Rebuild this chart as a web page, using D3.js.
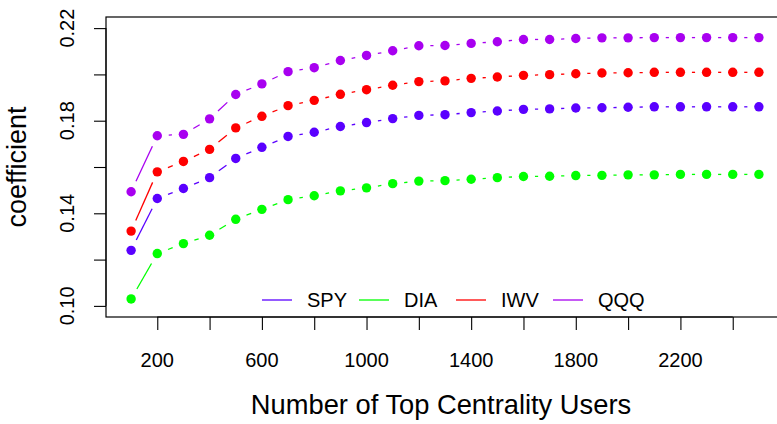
<!DOCTYPE html>
<html>
<head>
<meta charset="utf-8">
<script src="https://cdn.jsdelivr.net/npm/d3@7"></script>
<style>
  body { margin: 0; background: #fff; }
  svg { display: block; font-family: "Liberation Sans", Arial, sans-serif; }
</style>
</head>
<body>
<div id="chart"></div>
<script>
// values
const users = [100, 200, 300, 400, 500, 600, 700, 800, 900, 1000, 1100, 1200, 1300,
               1400, 1500, 1600, 1700, 1800, 1900, 2000, 2100, 2200, 2300, 2400, 2500];
const spy = [0.1240, 0.1464, 0.1507, 0.1554, 0.1637, 0.1685, 0.1732, 0.1750, 0.1775, 0.1792, 0.1809, 0.1823, 0.1826,
             0.1835, 0.1842, 0.1849, 0.1851, 0.1855, 0.1856, 0.1858, 0.1860, 0.1860, 0.1860, 0.1860, 0.1860];
const dia = [0.1030, 0.1226, 0.1269, 0.1305, 0.1374, 0.1417, 0.1459, 0.1476, 0.1497, 0.1510, 0.1528, 0.1539, 0.1541,
             0.1547, 0.1554, 0.1559, 0.1560, 0.1563, 0.1564, 0.1566, 0.1566, 0.1568, 0.1568, 0.1568, 0.1568];
const iwv = [0.1323, 0.1579, 0.1624, 0.1676, 0.1769, 0.1819, 0.1865, 0.1888, 0.1914, 0.1934, 0.1953, 0.1969, 0.1972,
             0.1983, 0.1989, 0.1996, 0.1999, 0.2003, 0.2006, 0.2007, 0.2009, 0.2009, 0.2009, 0.2009, 0.2009];
const qqq = [0.1493, 0.1735, 0.1741, 0.1808, 0.1913, 0.1959, 0.2012, 0.2029, 0.2060, 0.2082, 0.2102, 0.2124, 0.2125,
             0.2134, 0.2141, 0.2151, 0.2151, 0.2155, 0.2158, 0.2158, 0.2159, 0.2159, 0.2159, 0.2159, 0.2159];
const seriesNames = ["SPY", "DIA", "IWV", "QQQ"];
const xTicks = [200, 400, 600, 800, 1000, 1200, 1400, 1600, 1800, 2000, 2200, 2400];
const xLabels = [200, 600, 1000, 1400, 1800, 2200];
const yTicks = [0.10, 0.12, 0.14, 0.16, 0.18, 0.20, 0.22];
const yLabels = [0.10, 0.14, 0.18, 0.22];

const width = 777, height = 424;
const box = { left: 106, right: 784, top: 17, bottom: 317 };
const col = { SPY: "#5a00ff", DIA: "#00ff00", IWV: "#ff0000", QQQ: "#a800f0" };
const gap = 11.5;   // type="b" leaves a gap around each point
const r = 4.7;

const series = [spy, dia, iwv, qqq].map((vals, i) => ({
    name: seriesNames[i],
    values: vals.map((v, j) => ({ x: users[j], y: v }))
}));

const svg = d3.select("#chart")
    .append("svg")
    .attr("width", width)
    .attr("height", height);

// R pads the range by 4% on each side
const xScale = d3.scaleLinear()
    .domain([4, 2596])
    .range([box.left, box.right]);

const yScale = d3.scaleLinear()
    .domain([0.0952, 0.2248])
    .range([box.bottom, box.top]);

// plot box
svg.append("rect")
    .attr("x", box.left)
    .attr("y", box.top)
    .attr("width", box.right - box.left)
    .attr("height", box.bottom - box.top)
    .attr("fill", "none")
    .attr("stroke", "#000")
    .attr("stroke-width", 1.2);

// x axis
const xAxis = svg.append("g")
    .attr("transform", `translate(0, ${box.bottom})`)
    .call(d3.axisBottom(xScale).tickValues(xTicks).tickSize(13).tickSizeOuter(0).tickFormat(""));
xAxis.select(".domain")
    .attr("d", `M${xScale(xTicks[0])},0H${xScale(xTicks[xTicks.length - 1])}`);
xAxis.selectAll("line").attr("stroke-width", 1.1);

svg.append("g").selectAll("text")
    .data(xLabels)
    .enter()
    .append("text")
    .attr("x", d => xScale(d))
    .attr("y", 367)
    .attr("text-anchor", "middle")
    .style("font-size", "20px")
    .text(d => d);

// y axis
const yAxis = svg.append("g")
    .attr("transform", `translate(${box.left}, 0)`)
    .call(d3.axisLeft(yScale).tickValues(yTicks).tickSize(12).tickSizeOuter(0).tickFormat(""));
yAxis.select(".domain")
    .attr("d", `M0,${yScale(yTicks[0])}V${yScale(yTicks[yTicks.length - 1])}`);
yAxis.selectAll("line").attr("stroke-width", 1.1);

svg.append("g").selectAll("text")
    .data(yLabels)
    .enter()
    .append("text")
    .attr("transform", d => `translate(74, ${yScale(d)}) rotate(-90)`)
    .attr("text-anchor", "middle")
    .style("font-size", "20px")
    .text(d => d3.format(".2f")(d));

// axis titles
svg.append("text")
    .attr("x", 441)
    .attr("y", 414)
    .attr("text-anchor", "middle")
    .style("font-size", "27.3px")
    .text("Number of Top Centrality Users");

svg.append("text")
    .attr("transform", `translate(26, ${(box.top + box.bottom) / 2}) rotate(-90)`)
    .attr("text-anchor", "middle")
    .style("font-size", "27px")
    .text("coefficient");

// lines with gaps around points
const plot = svg.append("g");

series.forEach(s => {
    const segs = d3.pairs(s.values).map(([a, b]) => {
        const x1 = xScale(a.x), y1 = yScale(a.y);
        const x2 = xScale(b.x), y2 = yScale(b.y);
        const len = Math.hypot(x2 - x1, y2 - y1);
        const ux = (x2 - x1) / len, uy = (y2 - y1) / len;
        return { len, x1: x1 + ux * gap, y1: y1 + uy * gap, x2: x2 - ux * gap, y2: y2 - uy * gap };
    }).filter(d => d.len > 2 * gap);

    plot.append("g").selectAll("line")
        .data(segs)
        .enter()
        .append("line")
        .attr("x1", d => d.x1)
        .attr("y1", d => d.y1)
        .attr("x2", d => d.x2)
        .attr("y2", d => d.y2)
        .attr("stroke", col[s.name])
        .attr("stroke-width", 1.3);

    plot.append("g").selectAll("circle")
        .data(s.values)
        .enter()
        .append("circle")
        .attr("cx", d => xScale(d.x))
        .attr("cy", d => yScale(d.y))
        .attr("r", r)
        .attr("fill", col[s.name]);
});

// legend, no box
const legend = svg.append("g")
    .attr("transform", "translate(262, 300)");

const items = legend.selectAll("g")
    .data(seriesNames)
    .enter()
    .append("g")
    .attr("transform", (d, i) => `translate(${i * 97}, 0)`);

items.append("line")
    .attr("x1", 0)
    .attr("x2", 30)
    .attr("stroke", d => col[d])
    .attr("stroke-width", 1.3);

items.append("text")
    .attr("x", 45)
    .attr("y", 7)
    .style("font-size", "20px")
    .text(d => d);
</script>
</body>
</html>
